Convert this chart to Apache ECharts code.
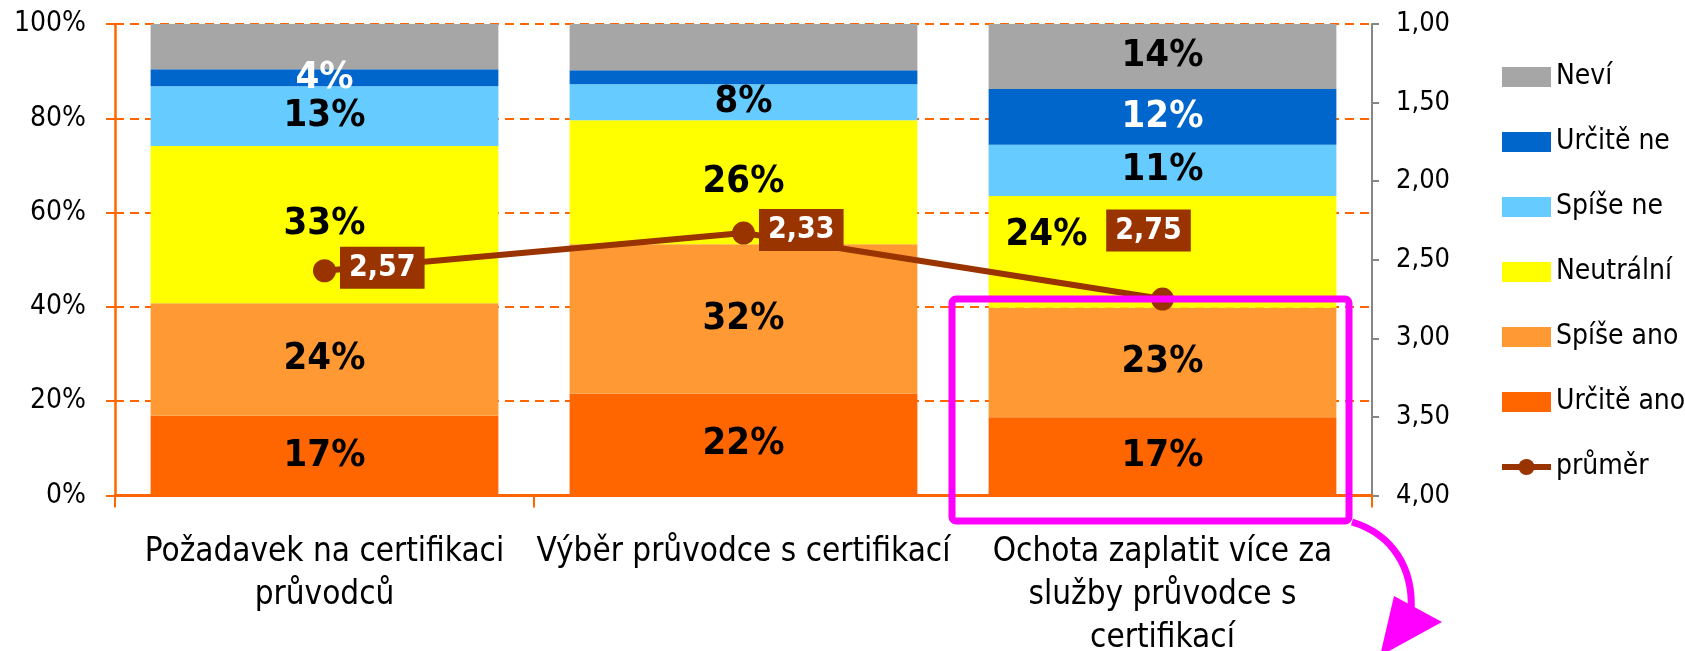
<!DOCTYPE html>
<html>
<head>
<meta charset="utf-8">
<title>Certifikace průvodců</title>
<script src="https://cdn.jsdelivr.net/npm/echarts@6/dist/echarts.min.js"></script>
<style>
	html, body { margin: 0; padding: 0; background: #fff; }
	#chart { width: 1685px; height: 651px; }
</style>
</head>
<body>
<div id="chart"></div>
<script>
// kategorie a hodnoty (v %)
const categories = [
	'Požadavek na certifikaci\nprůvodců',
	'Výběr průvodce s certifikací',
	'Ochota zaplatit více za\nslužby průvodce s\ncertifikací'
];
const urciteAno = [16.9, 21.6, 16.6];
const spiseAno = [23.9, 31.7, 23.2];
const neutralni = [33.3, 26.3, 23.7];
const spiseNe = [12.7, 7.6, 10.9];
const urciteNe = [3.6, 3.0, 11.8];
const nevi = [9.6, 9.8, 13.8];
// průměr na pravé ose (1 = určitě ano, 4 = určitě ne)
const prumer = [2.57, 2.33, 2.75];

const leftTicks = [0, 100, 20];
const rightTicks = [1, 4, 0.5];

const FONT = '"DejaVu Sans Condensed", "DejaVu Sans", sans-serif';
const ORANGE = '#FF6600';

// skryje popisky u vybraných sloupců
function barData(values, hidden, extra) {
	return values.map((v, i) => {
		if (hidden.indexOf(i) >= 0) return { value: v, label: { show: false } };
		if (extra && extra[i]) return Object.assign({ value: v }, extra[i]);
		return v;
	});
}

function barSeries(name, color, data, labelColor) {
	return {
		name: name,
		type: 'bar',
		stack: 'total',
		barWidth: '83%',
		data: data,
		itemStyle: { color: color },
		label: {
			show: true,
			position: 'inside',
			formatter: (p) => Math.round(p.value) + '%',
			color: labelColor || '#000',
			fontFamily: FONT,
			fontWeight: 'bold',
			fontSize: 38
		}
	};
}

const chart = echarts.init(document.getElementById('chart'));

const option = {
	animation: false,
	textStyle: { fontFamily: FONT },
	grid: {
		left: 115,
		right: 313,
		top: 24,
		bottom: 155.5,
		outerBoundsMode: 'none'
	},
	legend: {
		orient: 'vertical',
		left: 1499,
		top: 62,
		padding: 0,
		itemWidth: 49,
		itemHeight: 20,
		itemGap: 35,
		data: [
			{ name: 'Neví', icon: 'rect' },
			{ name: 'Určitě ne', icon: 'rect' },
			{ name: 'Spíše ne', icon: 'rect' },
			{ name: 'Neutrální', icon: 'rect' },
			{ name: 'Spíše ano', icon: 'rect' },
			{ name: 'Určitě ano', icon: 'rect' },
			{ name: 'průměr', lineStyle: { width: 6 } }
		],
		textStyle: {
			color: '#000',
			fontFamily: FONT,
			fontSize: 28,
			lineHeight: 30
		}
	},
	xAxis: {
		type: 'category',
		data: categories,
		axisLine: {
			show: true,
			lineStyle: { color: ORANGE, width: 3 }
		},
		axisTick: {
			show: true,
			length: 12,
			lineStyle: { color: ORANGE, width: 2 }
		},
		axisLabel: {
			interval: 0,
			color: '#000',
			fontFamily: FONT,
			fontSize: 33,
			lineHeight: 43,
			margin: 35
		}
	},
	yAxis: [{
		type: 'value',
		min: leftTicks[0],
		max: leftTicks[1],
		interval: leftTicks[2],
		axisLine: {
			show: true,
			lineStyle: { color: ORANGE, width: 2.5 }
		},
		axisTick: {
			show: true,
			length: 9,
			lineStyle: { color: ORANGE, width: 2 }
		},
		splitLine: {
			show: true,
			lineStyle: { color: ORANGE, width: 2, type: [9, 6] }
		},
		axisLabel: {
			formatter: '{value}%',
			color: '#000',
			fontFamily: FONT,
			fontSize: 28,
			margin: 29
		}
	}, {
		type: 'value',
		position: 'right',
		inverse: true,
		min: rightTicks[0],
		max: rightTicks[1],
		interval: rightTicks[2],
		axisLine: {
			show: true,
			lineStyle: { color: '#868686', width: 2 }
		},
		axisTick: {
			show: true,
			length: 7,
			lineStyle: { color: '#868686', width: 2 }
		},
		splitLine: { show: false },
		axisLabel: {
			formatter: (v) => v.toFixed(2).replace('.', ','),
			color: '#000',
			fontFamily: FONT,
			fontSize: 27,
			margin: 24
		}
	}],
	series: [
		barSeries('Určitě ano', '#FF6600', barData(urciteAno, [])),
		barSeries('Spíše ano', '#FF9933', barData(spiseAno, [])),
		barSeries('Neutrální', '#FFFF00', barData(neutralni, [], {
			2: { label: { offset: [-116, -17] } }
		})),
		barSeries('Spíše ne', '#66CCFF', barData(spiseNe, [])),
		barSeries('Určitě ne', '#0066CC', barData(urciteNe, [1]), '#fff'),
		barSeries('Neví', '#A6A6A6', barData(nevi, [0, 1])),
		{
			name: 'průměr',
			type: 'line',
			yAxisIndex: 1,
			data: prumer.map((v, i) => i === 2
				? { value: v, label: { position: 'top', distance: 36, offset: [-14, 0] } }
				: v),
			symbol: 'circle',
			symbolSize: 23,
			z: 5,
			lineStyle: { color: '#993300', width: 6 },
			itemStyle: { color: '#993300' },
			label: {
				show: true,
				position: 'right',
				distance: 4,
				offset: [0, -3],
				formatter: (p) => p.value.toFixed(2).replace('.', ','),
				color: '#fff',
				backgroundColor: '#993300',
				padding: [7, 9, 5, 9],
				fontFamily: FONT,
				fontWeight: 'bold',
				fontSize: 30
			}
		}
	],
	// purpurové zvýraznění třetího sloupce
	graphic: [{
		type: 'rect',
		z: 100,
		shape: { x: 952, y: 299, width: 397, height: 222, r: 4 },
		style: { fill: null, stroke: '#FF00FF', lineWidth: 7 }
	}, {
		type: 'bezierCurve',
		z: 100,
		shape: {
			x1: 1352, y1: 522,
			cpx1: 1392, cpy1: 534,
			cpx2: 1414, cpy2: 568,
			x2: 1411, y2: 612
		},
		style: { fill: null, stroke: '#FF00FF', lineWidth: 7 }
	}, {
		type: 'polygon',
		z: 100,
		shape: { points: [[1394, 596], [1442, 622], [1380, 656]] },
		style: { fill: '#FF00FF' }
	}]
};

chart.setOption(option);
</script>
</body>
</html>
